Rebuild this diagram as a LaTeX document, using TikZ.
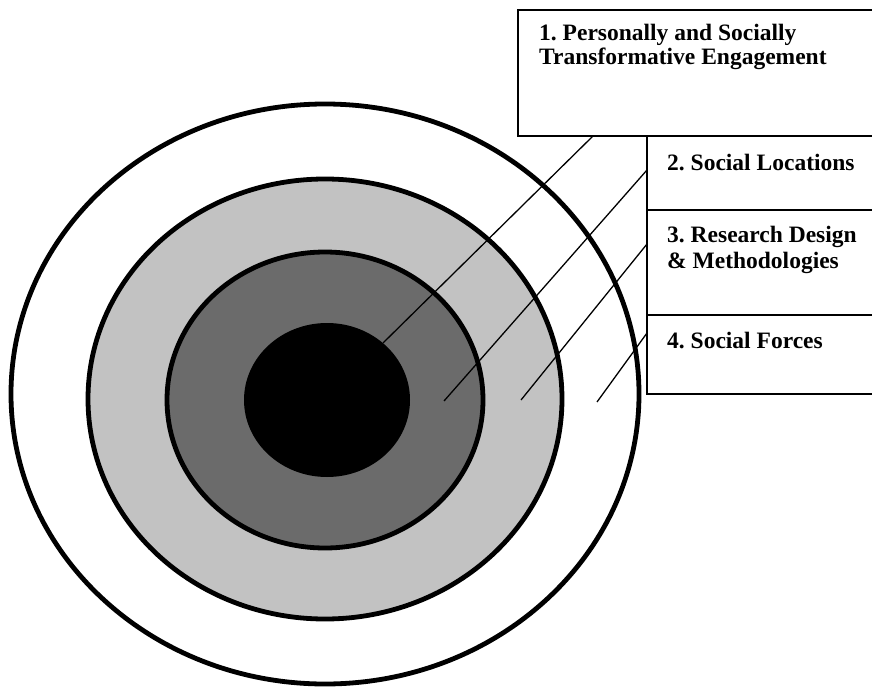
\documentclass[tikz,border=0pt]{standalone}
\usepackage{fontspec}
\setmainfont{Liberation Serif}
\begin{document}
\frenchspacing
\begin{tikzpicture}[x=1pt,y=-1pt,
  ring/.style={line width=4.8pt},
  boxline/.style={line width=1.6pt},
  leader/.style={line width=1.3pt},
  label/.style={anchor=west,inner sep=0pt,font=\fontsize{23.5}{24}\selectfont\bfseries,align=left}]
\useasboundingbox (0,0) rectangle (872,687);

% concentric rings
\draw[ring,fill=white]      (325,394) ellipse [x radius=314,y radius=290];
\draw[ring,fill=black!24]   (325,399) ellipse [x radius=237,y radius=220];
\draw[ring,fill=black!58]   (325,400) ellipse [x radius=158,y radius=148];
\fill[black]                (327,400) ellipse [x radius=83,y radius=77];

% label boxes (open on the right)
\draw[boxline] (872,10) -- (518,10) -- (518,136) -- (872,136);
\draw[boxline] (647,136) -- (647,394) -- (872,394);
\draw[boxline] (647,210) -- (872,210);
\draw[boxline] (647,315) -- (872,315);

% labels
\node[label] (l1) at (539,47) {1. Personally and Socially\\Transformative Engagement};
\node[label] (l2) at (667,163) {2. Social Locations};
\node[label] (l3) at (667,250) {3. Research Design\\[1.5pt]\& Methodologies};
\node[label] (l4) at (667,341) {4. Social Forces};

% leader lines into the rings
\coordinate (s1) at (593,136);  \coordinate (e1) at (383,343);
\coordinate (s2) at (647,170);  \coordinate (e2) at (444,401);
\coordinate (s3) at (647,244);  \coordinate (e3) at (521,400);
\coordinate (s4) at (647,333);  \coordinate (e4) at (597,402);
\draw[leader] (s1) -- (e1);
\draw[leader] (s2) -- (e2);
\draw[leader] (s3) -- (e3);
\draw[leader] (s4) -- (e4);
\end{tikzpicture}
\end{document}
